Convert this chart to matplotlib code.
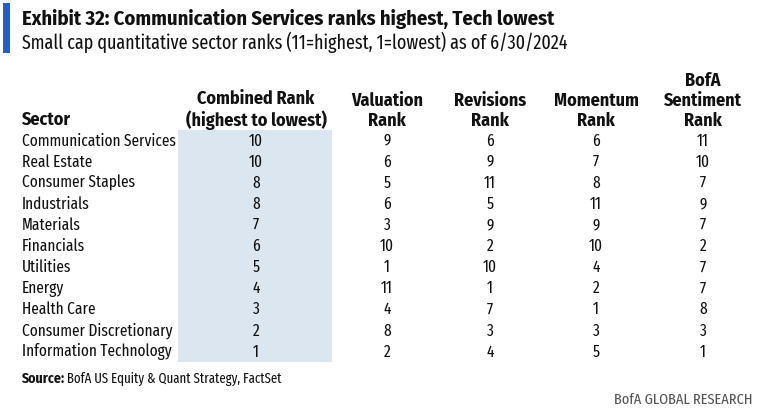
import matplotlib
matplotlib.use("Agg")
import matplotlib.pyplot as plt
from matplotlib.patches import Rectangle

sectors = ["Communication Services", "Real Estate", "Consumer Staples", "Industrials",
           "Materials", "Financials", "Utilities", "Energy", "Health Care",
           "Consumer Discretionary", "Information Technology"]
combined = [10, 10, 8, 8, 7, 6, 5, 4, 3, 2, 1]
valuation = [9, 6, 5, 6, 3, 10, 1, 11, 4, 8, 2]
revisions = [6, 9, 11, 5, 9, 2, 10, 1, 7, 3, 4]
momentum = [6, 7, 8, 11, 9, 10, 4, 2, 1, 3, 5]
sentiment = [11, 10, 7, 9, 7, 2, 7, 7, 8, 3, 1]
headers = ["Combined Rank\n(highest to lowest)", "Valuation\nRank", "Revisions\nRank",
           "Momentum\nRank", "BofA\nSentiment\nRank"]

fam = ["Fira Sans Condensed", "Roboto Condensed", "Barlow Semi Condensed",
       "Archivo Narrow", "DejaVu Sans"]
famr = ["Fira Sans Extra Condensed"] + fam

W, H = 758, 412
fig = plt.figure(figsize=(W / 100, H / 100), dpi=100)
fig.patch.set_facecolor("white")

def px(x, y):
    return x / W, 1 - y / H

fig.patches.append(Rectangle(px(3, 53), 7 / W, 50 / H, transform=fig.transFigure,
                             facecolor="#1f5fcf", edgecolor="none"))
fig.text(*px(22, 19), "Exhibit 32: Communication Services ranks highest, Tech lowest",
         fontsize=14.8, fontweight="bold", family=fam, va="center", ha="left", color="#111111")
fig.text(*px(22, 42), "Small cap quantitative sector ranks (11=highest, 1=lowest) as of 6/30/2024",
         fontsize=14.1, family=famr, va="center", ha="left", color="#111111")

fig.patches.append(Rectangle(px(178, 362), 154 / W, 232 / H, transform=fig.transFigure,
                             facecolor="#dce6f1", edgecolor="none"))

col_x = [256, 387, 490, 596, 703]
fig.text(*px(22, 120), "Sector", fontsize=13, fontweight="bold", family=fam,
         va="center", ha="left", color="#111111")
for x, h in zip(col_x, headers):
    fig.text(*px(x, 130), h, fontsize=13, fontweight="bold", family=fam, va="bottom",
             ha="center", multialignment="center", color="#111111", linespacing=1.18)

row0, dy = 141, 21.1
cols = [combined, valuation, revisions, momentum, sentiment]
for i, s in enumerate(sectors):
    y = row0 + i * dy
    fig.text(*px(22, y), s, fontsize=12, family=famr, va="center", ha="left", color="#111111")
    for x, c in zip(col_x, cols):
        fig.text(*px(x, y), str(c[i]), fontsize=12, family=famr, va="center", ha="center",
                 color="#111111")

fig.text(*px(22, 379), "Source:", fontsize=10, fontweight="bold", family=fam,
         va="center", ha="left", color="#111111")
fig.text(*px(67, 379), "BofA US Equity & Quant Strategy, FactSet", fontsize=10, family=famr,
         va="center", ha="left", color="#111111")
fig.text(*px(752, 400), "BofA GLOBAL RESEARCH", fontsize=11.2, family=famr,
         va="center", ha="right", color="#555555")

fig.savefig("out.png", dpi=100, facecolor="white")
